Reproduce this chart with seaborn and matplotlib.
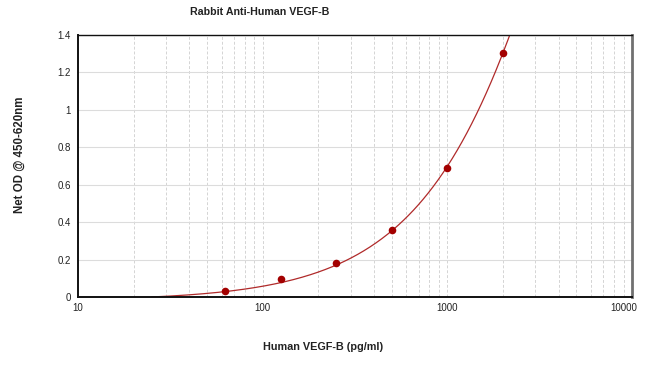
import numpy as np
import pandas as pd
import matplotlib
matplotlib.use("Agg")
import matplotlib.pyplot as plt
import matplotlib.transforms as mtransforms
import seaborn as sns
from matplotlib.ticker import FixedLocator, FixedFormatter, LogLocator, NullFormatter

# Data
concentration = [62.5, 125, 250, 500, 1000, 2000]
od_values = [0.034, 0.096, 0.18, 0.357, 0.688, 1.306]
curve_start = 25
x_ticks = [10, 100, 1000, 10000]
x_tick_labels = ["10", "100", "1000", "10000"]
y_ticks = [0, 0.2, 0.4, 0.6, 0.8, 1.0, 1.2, 1.4]
y_tick_labels = ["0", "0.2", "0.4", "0.6", "0.8", "1", "1.2", "1.4"]
title = "Rabbit Anti-Human VEGF-B"
x_label = "Human VEGF-B (pg/ml)"
y_label = "Net OD @ 450-620nm"

sns.set_theme(style="white")
plt.rcParams["font.family"] = ["Liberation Sans", "DejaVu Sans"]

fig = plt.figure(figsize=(6.5, 3.74), dpi=100)
W, H = 650, 374
ax = fig.add_axes([78 / W, 1 - 297 / H, (632 - 78) / W, (297 - 35) / H])

# fitted standard curve: quadratic through zero at the curve start
xa = np.array(concentration) - curve_start
A = np.column_stack([xa, xa ** 2])
coef, *_ = np.linalg.lstsq(A, np.array(od_values), rcond=None)
xc = np.logspace(np.log10(curve_start), np.log10(2300), 300)
yc = coef[0] * (xc - curve_start) + coef[1] * (xc - curve_start) ** 2
curve = pd.DataFrame({"x": xc, "y": yc})
pts = pd.DataFrame({"x": concentration, "y": od_values})

ax.set_xscale("log")
ax.set_xlim(10, 10000)
ax.set_ylim(0, 1.4)

# grid
ax.yaxis.set_major_locator(FixedLocator(y_ticks))
ax.yaxis.set_major_formatter(FixedFormatter(y_tick_labels))
ax.xaxis.set_major_locator(FixedLocator(x_ticks))
ax.xaxis.set_major_formatter(FixedFormatter(x_tick_labels))
ax.xaxis.set_minor_locator(LogLocator(base=10, subs=np.arange(2, 10)))
ax.xaxis.set_minor_formatter(NullFormatter())
ax.grid(axis="y", which="major", color="#dcdcdc", linestyle="-", linewidth=0.8)
ax.grid(axis="x", which="both", color="#d4d4d4", linestyle=(0, (3, 2)), linewidth=0.7)
ax.set_axisbelow(True)

sns.lineplot(data=curve, x="x", y="y", ax=ax, color="#b02a2a", linewidth=0.9, sort=False)
sns.scatterplot(data=pts, x="x", y="y", ax=ax, color="#a30000", s=30, edgecolor="#a30000", linewidth=0, zorder=5)

ax.set_xlabel("")
ax.set_ylabel("")
for s in ax.spines.values():
    s.set_color("#111111")
    s.set_linewidth(1.0)
ax.spines["left"].set_linewidth(1.4)
ax.spines["bottom"].set_linewidth(1.4)
ax.spines["right"].set_color("#707070")
ax.spines["right"].set_linewidth(2.0)

ax.tick_params(axis="both", which="both", length=0, labelsize=7, labelcolor="#222222")
ax.tick_params(axis="y", pad=5)
ax.tick_params(axis="x", pad=4)

fig.canvas.draw()
last = ax.get_xticklabels()[-1]
last.set_transform(last.get_transform() + mtransforms.ScaledTranslation(-8 / 100, 0, fig.dpi_scale_trans))

fig.text(260 / W, 1 - 12 / H, title, ha="center", va="center", fontsize=7.7, fontweight="bold", color="#222222")
fig.text(323 / W, 1 - 347 / H, x_label, ha="center", va="center", fontsize=7.8, fontweight="bold", color="#222222")
fig.text(20 / W, 1 - 155 / H, y_label, ha="center", va="center", rotation=90, fontsize=8.3, fontweight="bold", color="#222222")

fig.savefig("out.png", dpi=100)
